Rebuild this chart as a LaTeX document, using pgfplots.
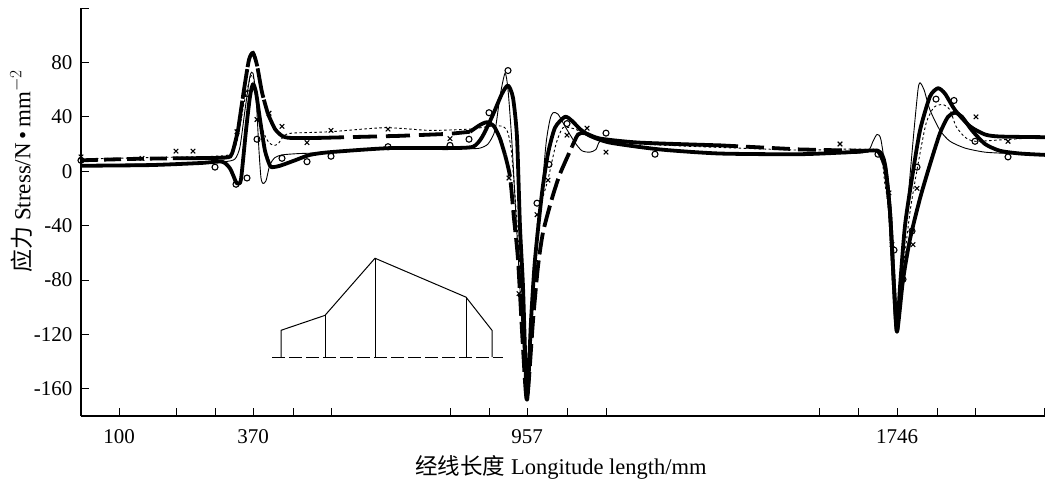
\documentclass[border=0pt]{standalone}
\usepackage{pgfplots}
\pgfplotsset{compat=1.18}
\usepackage{fontspec}
\setmainfont{Liberation Serif}
\newfontfamily\cjk{Noto Sans CJK SC}
\begin{document}
\begin{tikzpicture}[x=1pt,y=1pt]
\useasboundingbox (0,0) rectangle (1045,483);
\begin{axis}[
  at={(81pt,67pt)},anchor=south west,
  scale only axis,width=964pt,height=408pt,
  xmin=81,xmax=1045,ymin=-180,ymax=120,
  axis x line=bottom,axis y line=left,
  axis line style={-,line width=1.6pt,black},
  tick align=inside,major tick length=8pt,
  tick style={black,line width=1pt},
  xtick={119,176,215,253,293,331,450,489,527,567,606,819,858,897,937,975,1044},
  xticklabels={100,,,370,,,,,957,,,,,1746,,,},
  ytick={-160,-120,-80,-40,0,40,80,120},
  yticklabels={-160,-120,-80,-40,0,40,80,},
  tick label style={font=\fontsize{21}{25}\selectfont},
  xticklabel style={yshift=-10pt},
  yticklabel style={xshift=-5pt},
  xlabel={{\cjk 经线长度} Longitude length/mm},
  ylabel={{\cjk 应力} Stress/N\,•\,mm$^{-2}$},
  every axis x label/.style={at={(axis description cs:0.498,-0.125)},anchor=center,font=\fontsize{22.5}{26}\selectfont},
  every axis y label/.style={at={(axis description cs:-0.062,0.6)},rotate=90,anchor=center,font=\fontsize{23}{26}\selectfont},
  clip=false,
]
% thin solid
\addplot[black,line width=0.9pt,smooth,tension=0.4] coordinates {
(81,4.5)(200,6)(225,7)(235,9)(240,18)(245,45)(250,70)(253,72)(256,55)(259,15)(261,-5)(263,-9)(266,-7)(270,5)(275,10)(282,12)(300,13)(340,14)(390,17)(450,17)(470,16.5)(480,17)(488,20)(495,30)(500,55)(505,72)(508,60)(512,20)(518,-60)(527,-168)(533,-75)(540,-30)(546,20)(550,38)(553,43)(558,42)(565,33)(575,21)(582,15)(590,14)(596,16)(600,22)(612,21)(640,17)(720,13)(850,13)(868,15)(873,22)(877,27)(881,23)(887,-10)(892,-70)(897,-118)(902,-70)(908,-20)(914,30)(918,60)(920,65)(924,60)(930,45)(940,30)(950,22)(965,17)(985,14)(1010,13)(1045,12)};
% fine dashed
\addplot[black,line width=0.9pt,dash pattern=on 2.5pt off 2.5pt,smooth,tension=0.4] coordinates {
(81,9)(150,10)(215,11)(232,13)(238,25)(244,50)(250,68)(253,70)(258,50)(263,30)(268,22)(273,19)(278,20)(284,26)(292,28)(330,29)(385,32)(430,30)(470,31)(490,33)(503,33)(508,28)(512,10)(520,-70)(527,-168)(533,-80)(538,-34)(548,-6)(556,20)(563,32)(575,31)(585,27)(600,23)(640,20)(700,18)(800,15.5)(875,15)(885,-10)(890,-40)(897,-118)(902,-80)(910,-30)(918,5)(926,35)(934,47)(943,49)(950,45)(956,33)(965,25)(975,22)(1000,23)(1045,25)};
% thick solid, lower
\addplot[black,line width=3.8pt,line join=round,smooth,tension=0.4] coordinates {
(81,4)(150,4.5)(200,6)(222,7)(230,2)(236,-8)(238,-9)(241,-6)(246,30)(250,55)(253,64)(256,58)(260,38)(265,15)(270,4)(273,3)(280,4)(295,8)(310,12)(330,14)(390,17)(450,17)(473,18)(482,25)(492,40)(502,57)(508,63)(513,54)(517,25)(520,-41)(523,-85)(527,-168)(531,-110)(535,-65)(542,-16)(548,13)(555,32)(565,40)(572,37)(580,31)(590,26)(610,21)(660,16)(720,13)(800,12.5)(850,14)(878,15)(885,5)(890,-30)(894,-85)(897,-118)(900,-85)(905,-40)(912,-5)(920,30)(930,55)(938,61)(945,57)(955,45)(970,33)(985,27)(1000,25.5)(1045,25)};
% thick dashed
\addplot[black,line width=3.8pt,dash pattern=on 17pt off 6pt,smooth,tension=0.4] coordinates {
(81,8)(130,9)(175,9.5)};
\addplot[black,line width=3.8pt,smooth,tension=0.4] coordinates {
(175,9.5)(225,10)(232,13)(238,30)};
\addplot[black,line width=3.8pt,dash pattern=on 30pt off 2pt,smooth,tension=0.4] coordinates {
(238,30)(244,60)(249,82)(253,87)(257,78)(262,58)(268,42)};
\addplot[black,line width=3.8pt,smooth,tension=0.4] coordinates {
(268,42)(275,31)(282,26)(290,24.5)(320,24.5)};
\addplot[black,line width=3.8pt,dash pattern=on 24pt off 9pt] coordinates {
(320,24.5)(400,26)(450,27.5)(470,29)};
\addplot[black,line width=3.8pt,smooth,tension=0.4] coordinates {
(470,29)(480,34)(487,36)(494,33)(500,24)(505,12)};
\addplot[black,line width=3.8pt,line join=round,dash pattern=on 22pt off 6pt,smooth,tension=0.4] coordinates {
(505,12)(510,-4)(514,-35)(518,-65)(523,-130)(527,-168)(533,-110)(538,-70)(543,-45)(552,-20)(560,-2)(572,18)};
\addplot[black,line width=3.8pt,smooth,tension=0.4] coordinates {
(572,18)(578,27)(585,28)(600,24)(640,21)(720,19)};
\addplot[black,line width=3.8pt,dash pattern=on 18pt off 8pt] coordinates {
(720,19)(800,16)(860,15)(878,15)};
\addplot[black,line width=3.8pt,line join=round,smooth,tension=0.4] coordinates {
(878,15)(885,3)(890,-30)(894,-85)(897,-118)(903,-80)(910,-50)(920,-20)(930,5)(940,28)(948,40)(955,43)(962,40)(972,30)(985,20)(1000,15)(1020,13)(1045,12)};
% circles
\addplot[only marks,mark=o,mark size=3pt,mark options={black,line width=1.1pt,fill=none}] coordinates {
(81,8)(215,3)(236,-9.6)(247,-5)(257,23.5)(248,57)(282,9.5)(307,7)(331,11)(388,18)(450,19)(469,23.5)(489,43)(508,74)(537,-23.5)(549,5)(567,35)(606,28)(655,12.5)(878,12.5)(894,-58)(903,-79.5)(912,-44)(917,3)(936,53)(954,52)(975,22)(1008,10.5)};
% crosses
\addplot[only marks,mark=x,mark size=3.2pt,mark options={black,line width=1.1pt}] coordinates {
(81,10.5)(142,9.5)(176,14.7)(193,14.7)(237,29)(257,38)(269,42.6)(282,33)(307,21)(331,30)(388,31)(450,24)(509,-5)(519,-90)(537,-32)(548,-6.6)(567,26.5)(587,31.6)(606,14)(840,20)(889,-16)(892,-54)(913,-54)(917,-12.6)(976,40)(1008,22)};
% inset
\addplot[black,line width=1pt] coordinates {(281,-136.8)(281,-117)(325,-106)(375,-64)(466,-92.6)(492,-117)(492,-136.8)};
\addplot[black,line width=0.9pt] coordinates {(325,-136.8)(325,-106)};
\addplot[black,line width=0.9pt] coordinates {(375,-136.8)(375,-64)};
\addplot[black,line width=0.9pt] coordinates {(466,-136.8)(466,-92.6)};
\addplot[black,line width=1pt,dash pattern=on 13pt off 4pt] coordinates {(272,-136.8)(503,-136.8)};
\end{axis}
\end{tikzpicture}
\end{document}
